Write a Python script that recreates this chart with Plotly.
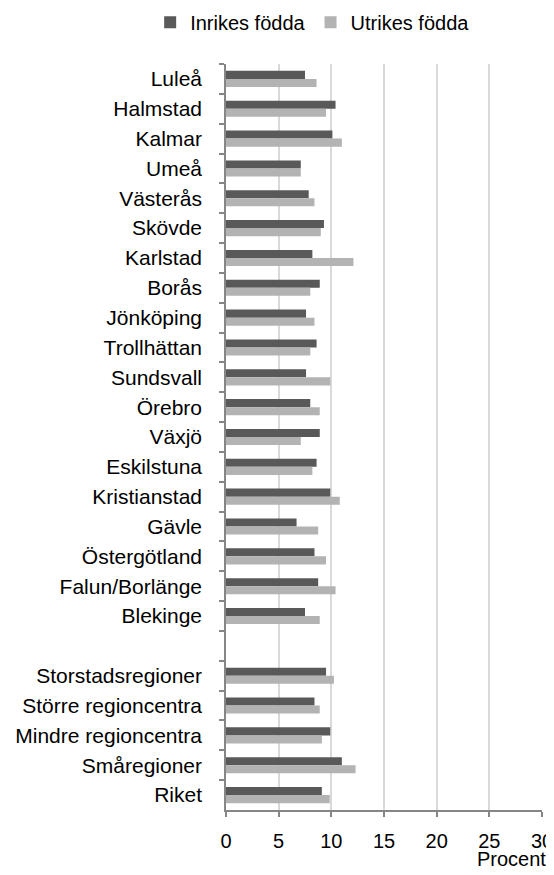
import plotly.graph_objects as go

categories = ["Luleå", "Halmstad", "Kalmar", "Umeå", "Västerås", "Skövde", "Karlstad",
              "Borås", "Jönköping", "Trollhättan", "Sundsvall", "Örebro", "Växjö",
              "Eskilstuna", "Kristianstad", "Gävle", "Östergötland", "Falun/Borlänge",
              "Blekinge", " ", "Storstadsregioner", "Större regioncentra",
              "Mindre regioncentra", "Småregioner", "Riket"]

inrikes = [7.5, 10.4, 10.1, 7.1, 7.85, 9.3, 8.2, 8.9, 7.6, 8.6, 7.6, 8.0, 8.9,
           8.6, 9.9, 6.7, 8.4, 8.75, 7.5, None, 9.5, 8.4, 9.9, 11.0, 9.1]
utrikes = [8.6, 9.5, 11.0, 7.1, 8.4, 9.0, 12.1, 8.0, 8.4, 8.0, 9.9, 8.9, 7.1,
           8.2, 10.8, 8.75, 9.5, 10.4, 8.9, None, 10.25, 8.9, 9.1, 12.3, 9.85]

xticks = [0, 5, 10, 15, 20, 25, 30]

FONT = "Liberation Sans, Arial, sans-serif"

fig = go.Figure()
fig.add_trace(go.Bar(y=categories, x=inrikes, orientation="h", name="Inrikes födda",
                     marker=dict(color="#595959", line=dict(width=0))))
fig.add_trace(go.Bar(y=categories, x=utrikes, orientation="h", name="Utrikes födda",
                     marker=dict(color="#b3b3b3", line=dict(width=0))))

fig.update_layout(
    width=546, height=867,
    margin=dict(l=218, r=12, t=56, b=65, autoexpand=False),
    plot_bgcolor="white", paper_bgcolor="white",
    barmode="group", bargap=0.46, bargroupgap=0,
    font=dict(family=FONT, size=21, color="#000000"),
    legend=dict(orientation="h", x=-0.24, xanchor="left", y=1.056, yanchor="middle",
                xref="paper", yref="paper",
                font=dict(size=20), itemwidth=30, traceorder="normal"),
    showlegend=True,
)

fig.update_xaxes(range=[0, 30], tickvals=xticks, ticktext=[str(v) for v in xticks],
                 showgrid=True, gridcolor="#d9d9d9", gridwidth=1.5,
                 showline=True, linecolor="#868686", linewidth=1.5,
                 ticks="outside", ticklen=5, tickcolor="#868686", tickwidth=1.5,
                 ticklabelstandoff=7, zeroline=False,
                 tickfont=dict(size=20))
fig.update_yaxes(categoryorder="array", categoryarray=categories, autorange="reversed",
                 tickson="boundaries", ticks="outside", ticklen=5, tickcolor="#868686",
                 tickwidth=1.5, showline=True, linecolor="#868686", linewidth=1.5,
                 showgrid=False, ticklabelstandoff=18, tickfont=dict(size=21))

fig.add_annotation(text="Procent", xref="paper", yref="paper", x=1.019, y=-0.066,
                   xanchor="right", yanchor="middle", showarrow=False,
                   font=dict(size=20, family=FONT, color="#000000"))

fig.write_html("out.html")
